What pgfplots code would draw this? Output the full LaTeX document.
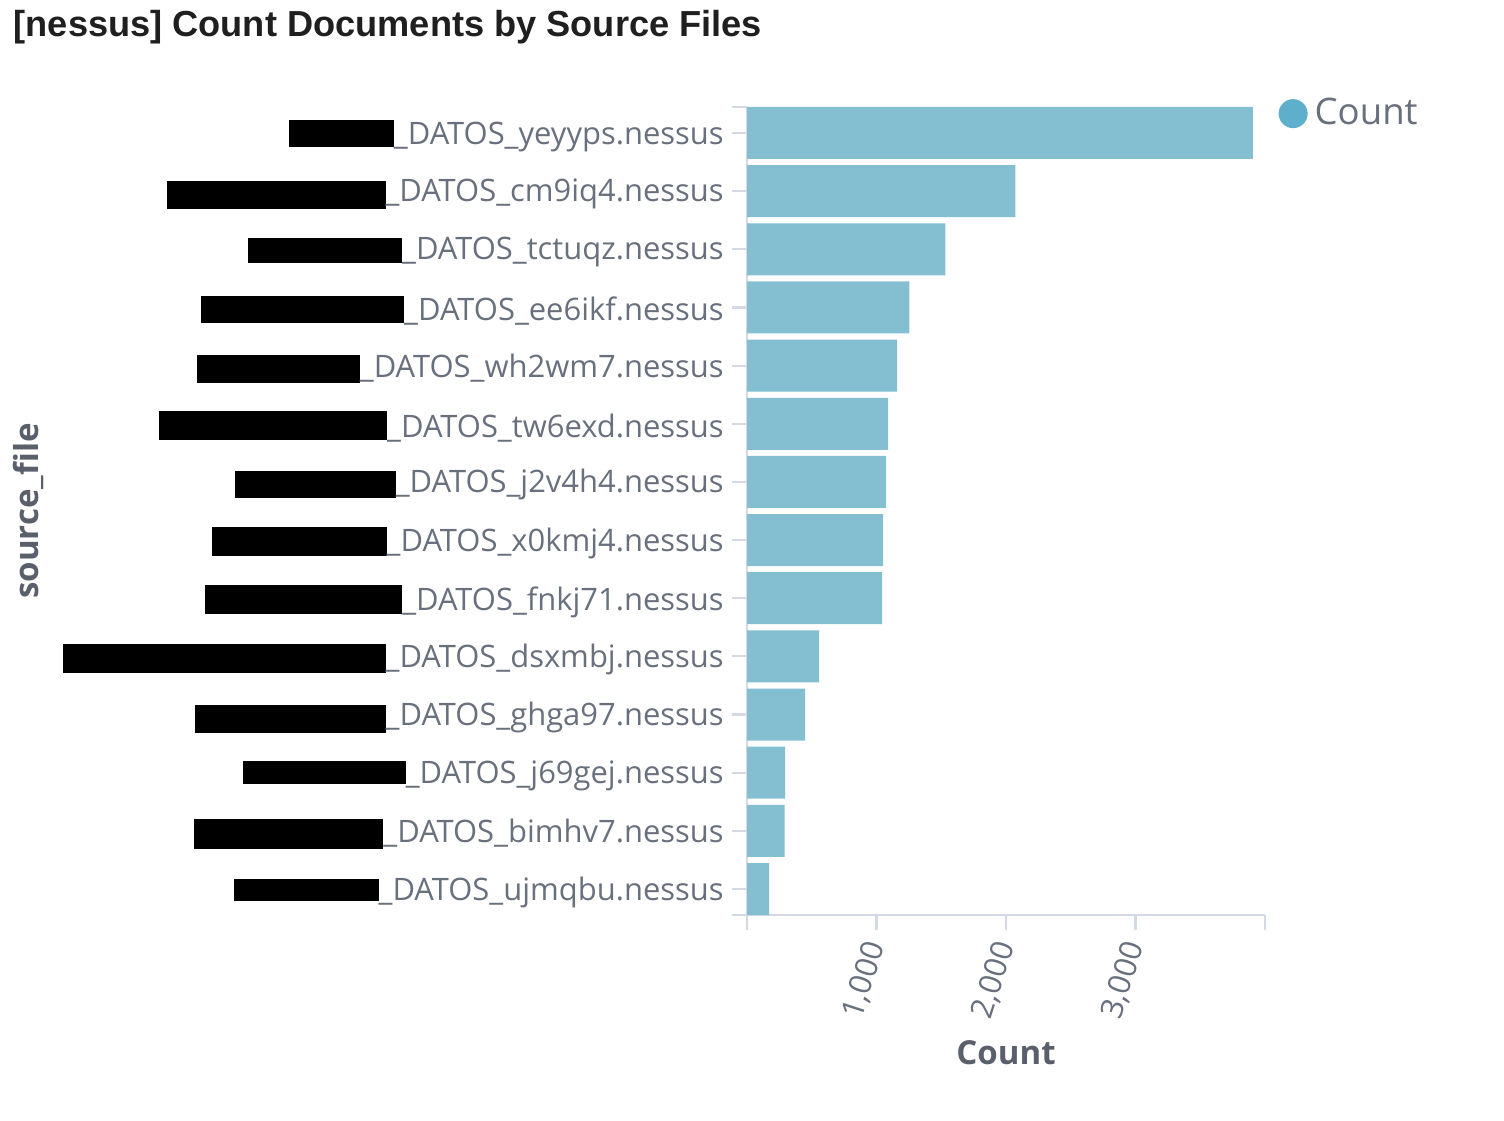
\documentclass[border=0pt]{standalone}
\usepackage{fontspec}
\setmainfont{Open Sans}
\newfontfamily\titlefont{Liberation Sans}
\usepackage{pgfplots}
\pgfplotsset{compat=1.18}
\definecolor{barc}{HTML}{84BFD1}
\definecolor{legc}{HTML}{5EAFCC}
\definecolor{txt}{HTML}{69707D}
\definecolor{axt}{HTML}{5A606B}
\definecolor{axl}{HTML}{D3DAE6}
\newcommand\lbl[4]{\textcolor{black}{\rule[-#3mm]{#1mm}{#2mm}}#4}
\begin{document}
\begin{tikzpicture}
\path[use as bounding box] (0,0) rectangle (15.04cm,11.2cm);
\node[anchor=west, inner sep=0pt, font=\titlefont\bfseries\fontsize{10.3}{12}\selectfont, text=black!88] at (0.13cm,10.93cm) {[nessus] Count Documents by Source Files};
\begin{axis}[
  at={(7.47cm,2.05cm)}, anchor=south west,
  scale only axis, width=5.18cm, height=8.08cm,
  xbar, bar width=5.2mm,
  xmin=0, xmax=4000, ymin=-0.447, ymax=13.447,
  axis x line*=bottom, axis y line*=left,
  axis line style={axl, line width=0.6pt, -},
  tick align=outside, major tick length=1.5mm,
  tick style={axl, line width=0.6pt},
  xtick={0,1000,2000,3000,4000},
  xticklabels={,{1,000},{2,000},{3,000},},
  scaled x ticks=false,
  xticklabel style={rotate=72, anchor=east, yshift=-0.4mm, font=\fontsize{8.8}{10}\selectfont, text=txt},
  ytick={0,...,13},
  extra y ticks={-0.447,13.447}, extra y tick labels={},
  yticklabel style={font=\fontsize{8.8}{10}\selectfont, text=txt, xshift=0.4mm, yshift=-0.3mm},
  yticklabels={
    \lbl{14.5}{2.2}{0.1}{\_DATOS\_ujmqbu.nessus},
    \lbl{18.9}{3.0}{0.6}{\_DATOS\_bimhv7.nessus},
    \lbl{16.3}{2.3}{0.1}{\_DATOS\_j69gej.nessus},
    \lbl{19.1}{2.8}{0.7}{\_DATOS\_ghga97.nessus},
    \lbl{32.3}{2.9}{0.5}{\_DATOS\_dsxmbj.nessus},
    \lbl{19.7}{2.9}{0.4}{\_DATOS\_fnkj71.nessus},
    \lbl{17.5}{2.9}{0.4}{\_DATOS\_x0kmj4.nessus},
    \lbl{16.1}{2.7}{0.5}{\_DATOS\_j2v4h4.nessus},
    \lbl{22.8}{2.9}{0.2}{\_DATOS\_tw6exd.nessus},
    \lbl{16.3}{2.8}{0.6}{\_DATOS\_wh2wm7.nessus},
    \lbl{20.3}{2.7}{0.3}{\_DATOS\_ee6ikf.nessus},
    \lbl{15.4}{2.5}{0.3}{\_DATOS\_tctuqz.nessus},
    \lbl{21.9}{2.8}{0.7}{\_DATOS\_cm9iq4.nessus},
    \lbl{10.5}{2.7}{0.2}{\_DATOS\_yeyyps.nessus}
  },
  xlabel={Count},
  xlabel style={at={(rel axis cs:0.5,-0.171)}, anchor=center, font=\bfseries\fontsize{9.4}{11}\selectfont, text=axt},
  ylabel={source\_file},
  ylabel style={at={(rel axis cs:-1.388,0.5)}, anchor=center, font=\bfseries\fontsize{9.4}{11}\selectfont, text=axt},
  legend style={at={(rel axis cs:1.025,1.021)}, anchor=north west, draw=none, fill=none, inner sep=0pt,
    font=\fontsize{10.4}{12}\selectfont, text=txt},
  clip=false,
]
\addplot[fill=barc, draw=none,
  legend image code/.code={\fill[legc] (0.14cm,0) circle (0.145cm);}]
  coordinates {(170,0) (290,1) (294,2) (449,3) (557,4) (1044,5) (1052,6)
               (1075,7) (1090,8) (1160,9) (1253,10) (1531,11) (2073,12) (3906,13)};
\addlegendentry{Count}
\end{axis}
\end{tikzpicture}
\end{document}
